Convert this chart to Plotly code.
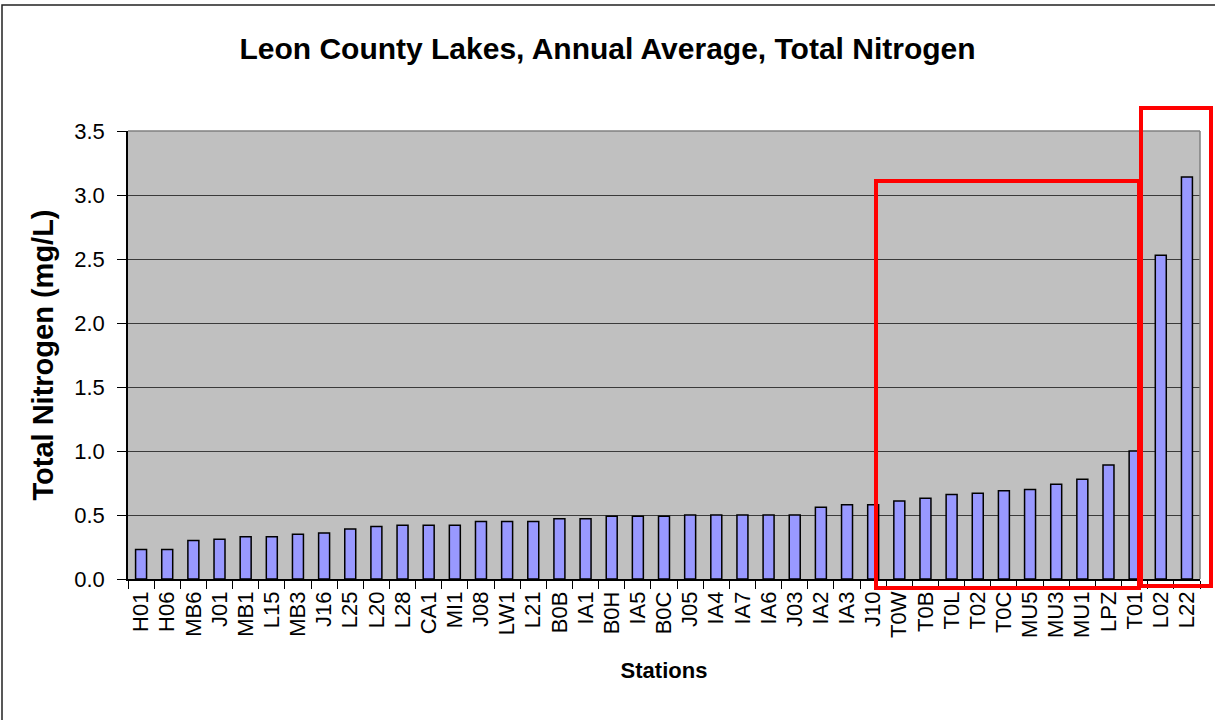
#!/usr/bin/env python3

import plotly.graph_objects as go

# station codes, sorted by annual average
stations = ["H01", "H06", "MB6", "J01", "MB1", "L15", "MB3", "J16", "L25", "L20",
            "L28", "CA1", "MI1", "J08", "LW1", "L21", "B0B", "IA1", "B0H", "IA5",
            "B0C", "J05", "IA4", "IA7", "IA6", "J03", "IA2", "IA3", "J10", "T0W",
            "T0B", "T0L", "T02", "T0C", "MU5", "MU3", "MU1", "LPZ", "T01", "L02",
            "L22"]

# total nitrogen, mg/L
tn_values = [0.23, 0.23, 0.30, 0.31, 0.33, 0.33, 0.35, 0.36, 0.39, 0.41,
             0.42, 0.42, 0.42, 0.45, 0.45, 0.45, 0.47, 0.47, 0.49, 0.49,
             0.49, 0.50, 0.50, 0.50, 0.50, 0.50, 0.56, 0.58, 0.58, 0.61,
             0.63, 0.66, 0.67, 0.69, 0.70, 0.74, 0.78, 0.89, 1.00, 2.53,
             3.14]

y_ticks = [0.0, 0.5, 1.0, 1.5, 2.0, 2.5, 3.0, 3.5]

W, H = 1215, 720
L, R, T, B = 128, 15, 131, 141
PW, PH = W - L - R, H - T - B


def px(x):
    return (x - L) / PW


def py(y):
    return (H - B - y) / PH


fig = go.Figure()
fig.add_trace(go.Bar(
    x=stations, y=tn_values,
    marker=dict(color="#9999FF", line=dict(color="black", width=1.5)),
))

font = "Liberation Sans, Arial, sans-serif"

shapes = [
    # outer chart border
    dict(type="rect", xref="paper", yref="paper",
         x0=px(2), x1=px(1230), y0=py(5), y1=py(740),
         line=dict(color="#222222", width=1.5)),
    # plot area border (top / right)
    dict(type="line", xref="paper", yref="paper",
         x0=0, x1=1, y0=1, y1=1, line=dict(color="#808080", width=1.5)),
    dict(type="line", xref="paper", yref="paper",
         x0=1, x1=1, y0=0, y1=1, line=dict(color="#808080", width=1.5)),
    # red highlight boxes
    dict(type="rect", xref="paper", yref="paper",
         x0=px(876), x1=px(1139), y0=py(588), y1=py(181),
         line=dict(color="#FF0000", width=4)),
    dict(type="rect", xref="paper", yref="paper",
         x0=px(1141), x1=px(1211), y0=py(586), y1=py(108),
         line=dict(color="#FF0000", width=4)),
]

fig.update_layout(
    width=W, height=H,
    margin=dict(l=L, r=R, t=T, b=B),
    paper_bgcolor="white",
    plot_bgcolor="#C0C0C0",
    bargap=0.58,
    showlegend=False,
    font=dict(family=font, size=22, color="black"),
    title=dict(text="<b>Leon County Lakes, Annual Average, Total Nitrogen</b>",
               x=0.5, xref="container", y=1 - 48 / H, yanchor="middle",
               font=dict(size=30)),
    shapes=shapes,
)

fig.update_xaxes(
    tickangle=-90, tickson="boundaries", ticks="outside", ticklen=8,
    tickcolor="black", showline=True, linecolor="black", linewidth=1.5,
    showgrid=False, ticklabelstandoff=2,
    title=dict(text="<b>Stations</b>", font=dict(size=22), standoff=26),
)
fig.update_yaxes(
    range=[0, 3.5], tickvals=y_ticks, tickformat=".1f",
    ticks="outside", ticklen=9, tickcolor="black", ticklabelstandoff=8,
    showline=True, linecolor="black", linewidth=1.5,
    showgrid=True, gridcolor="#3a3a3a", gridwidth=1, zeroline=False,
    title=dict(text="<b>Total Nitrogen (mg/L)</b>", font=dict(size=29), standoff=12),
)

fig.write_html("out.html", config={"displayModeBar": False},
               post_script="document.body.style.margin='0';")
